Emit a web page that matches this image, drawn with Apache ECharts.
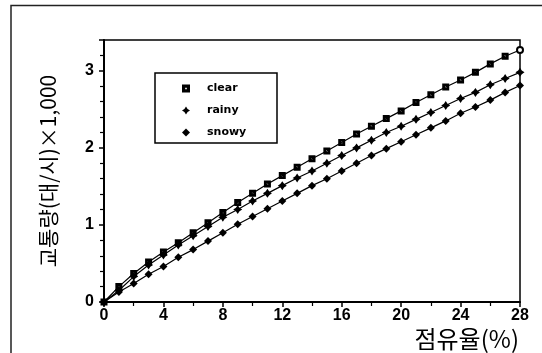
<!DOCTYPE html>
<html>
<head>
<meta charset="utf-8">
<script src="https://cdn.jsdelivr.net/npm/echarts@6/dist/echarts.min.js"></script>
<style>
  html, body { margin: 0; padding: 0; background: #fff; }
  #chart { width: 542px; height: 353px; }
</style>
</head>
<body>
<div id="chart"></div>
<script>
// Occupancy (%) on the x axis, traffic volume (veh/h × 1,000) on the y axis
const occupancy = [0,1,2,3,4,5,6,7,8,9,10,11,12,13,14,15,16,17,18,19,20,21,22,23,24,25,26,27,28];
const clear = [0,0.20,0.37,0.52,0.65,0.77,0.90,1.03,1.16,1.29,1.41,1.53,1.64,1.75,1.86,1.96,2.07,2.18,2.28,2.38,2.48,2.59,2.69,2.79,2.88,2.98,3.09,3.19,3.27];
const rainy = [0,0.15,0.33,0.48,0.61,0.74,0.86,0.98,1.10,1.20,1.31,1.41,1.51,1.61,1.70,1.80,1.90,2.00,2.10,2.20,2.28,2.37,2.46,2.55,2.64,2.72,2.82,2.90,2.98];
const snowy = [0,0.13,0.24,0.36,0.46,0.58,0.68,0.79,0.90,1.01,1.11,1.21,1.31,1.41,1.51,1.60,1.70,1.80,1.90,1.99,2.08,2.17,2.26,2.35,2.45,2.53,2.62,2.72,2.81];
const seriesNames = ['clear', 'rainy', 'snowy'];

const squareIcon = 'path://M0,0H10V10H0Z M4,4V6H6V4Z';
const starIcon = 'path://M5,0L7,3L10,5L7,7L5,10L3,7L0,5L3,3Z';
const diamondIcon = 'diamond';

function pairs(ys) { return occupancy.map((x, i) => [x, ys[i]]); }

const clearData = pairs(clear);
// last clear point is drawn open
clearData[clearData.length - 1] = { value: clearData[clearData.length - 1], symbol: 'emptyCircle', symbolSize: 6 };

const tickFont = { color: '#000', fontSize: 16, fontWeight: 'bold', fontFamily: 'Liberation Sans, Arial, sans-serif' };

const chart = echarts.init(document.getElementById('chart'), null, { renderer: 'canvas' });
chart.setOption({
  animation: false,
  backgroundColor: '#fff',
  grid: { left: 104, right: 22, top: 40, bottom: 51, show: true, borderColor: '#000', borderWidth: 1.5 },
  xAxis: {
    type: 'value', min: 0, max: 28, interval: 4,
    name: '점유율(%)', nameLocation: 'end', nameGap: -1,
    nameTextStyle: { fontSize: 24, color: '#000', fontFamily: 'Noto Sans CJK KR', align: 'right', verticalAlign: 'top', padding: [25, 0, 0, 0] },
    axisLine: { lineStyle: { color: '#000', width: 2 } },
    axisTick: { show: true, length: 5, lineStyle: { color: '#000', width: 1.5 } },
    minorTick: { show: true, splitNumber: 2, length: 4, lineStyle: { color: '#000', width: 1.2 } },
    axisLabel: Object.assign({ margin: 6 }, tickFont),
    splitLine: { show: false }
  },
  yAxis: {
    type: 'value', min: 0, max: 3.4, interval: 1,
    name: '교통량(대/시)×1,000', nameLocation: 'middle', nameGap: 45, nameRotate: 90,
    nameTextStyle: { fontSize: 21, color: '#000', fontFamily: 'Noto Sans CJK KR' },
    axisLine: { lineStyle: { color: '#000', width: 2 } },
    axisTick: { show: true, length: 5, lineStyle: { color: '#000', width: 1.5 } },
    minorTick: { show: true, splitNumber: 5, length: 4, lineStyle: { color: '#000', width: 1.2 } },
    axisLabel: Object.assign({ margin: 10, showMaxLabel: false }, tickFont),
    splitLine: { show: false }
  },
  legend: {
    orient: 'vertical', left: 177, top: 78, itemGap: 11,
    itemWidth: 8, itemHeight: 8,
    data: [
      { name: seriesNames[0], icon: squareIcon },
      { name: seriesNames[1], icon: starIcon },
      { name: seriesNames[2], icon: diamondIcon }
    ],
    textStyle: { color: '#000', fontSize: 11, fontWeight: 'bold', fontFamily: 'DejaVu Sans, sans-serif', padding: [0, 0, 0, 12] }
  },
  graphic: [
    { type: 'rect', shape: { x: 155, y: 73, width: 122, height: 70 }, style: { fill: 'none', stroke: '#000', lineWidth: 1.5 }, z: 10 },
    { type: 'polyline', shape: { points: [[11, 353], [11, 5.5], [542, 5.5]] }, style: { fill: 'none', stroke: '#222', lineWidth: 1.5 }, z: 10 }
  ],
  series: [
    { name: seriesNames[0], type: 'line', data: clearData, symbol: squareIcon, symbolSize: 7,
      itemStyle: { color: '#000' }, lineStyle: { color: '#000', width: 1.2 } },
    { name: seriesNames[1], type: 'line', data: pairs(rainy), symbol: starIcon, symbolSize: 9,
      itemStyle: { color: '#000' }, lineStyle: { color: '#000', width: 1.2 } },
    { name: seriesNames[2], type: 'line', data: pairs(snowy), symbol: diamondIcon, symbolSize: 8,
      itemStyle: { color: '#000' }, lineStyle: { color: '#000', width: 1.2 } }
  ]
});
</script>
</body>
</html>
